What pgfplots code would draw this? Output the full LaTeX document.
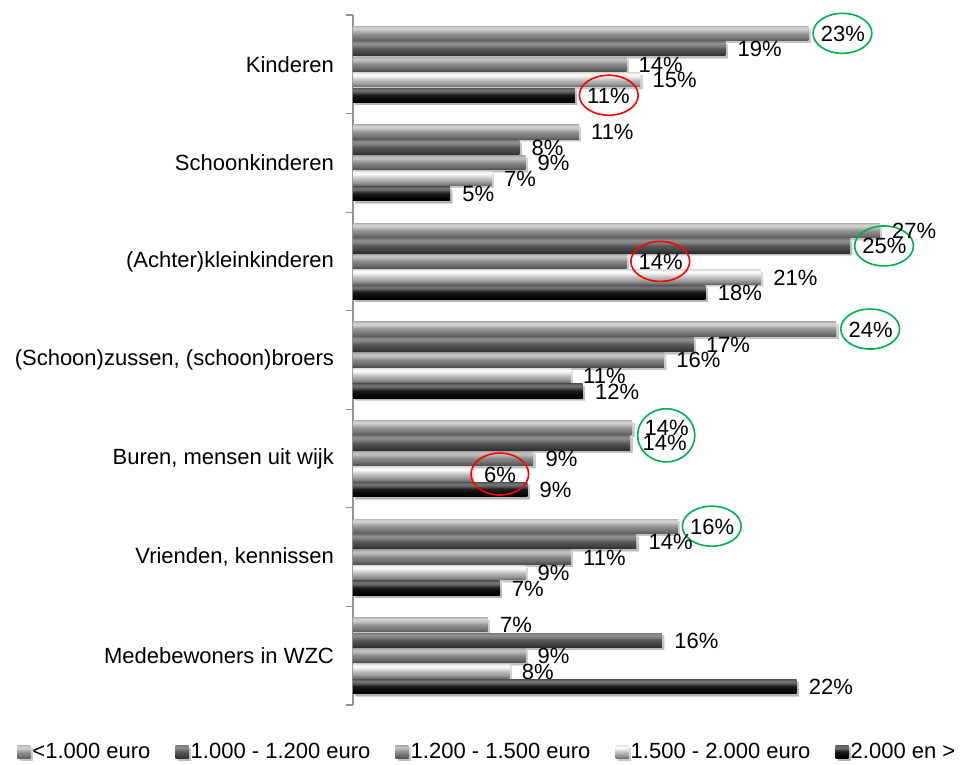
\documentclass[border=0pt]{standalone}
\usepackage{fontspec}
\setmainfont{Liberation Sans}
\usepackage{pgfplots}
\pgfplotsset{compat=1.18}
\newcommand\fs{\fontsize{11}{13}\selectfont}
\definecolor{cgreen}{HTML}{00B050}
\definecolor{cred}{HTML}{FF0000}
\pgfdeclareverticalshading{sA}{100bp}{color(0bp)=(black!64); color(25bp)=(black!64); color(36bp)=(black!53); color(50bp)=(black!42); color(64bp)=(black!20); color(70bp)=(black!17); color(75bp)=(black!28); color(100bp)=(black!28)}
\pgfdeclareverticalshading{sB}{100bp}{color(0bp)=(black!82); color(25bp)=(black!82); color(36bp)=(black!74); color(50bp)=(black!66); color(64bp)=(black!46); color(70bp)=(black!44); color(75bp)=(black!52); color(100bp)=(black!52)}
\pgfdeclareverticalshading{sC}{100bp}{color(0bp)=(black!70); color(25bp)=(black!70); color(36bp)=(black!58); color(50bp)=(black!47); color(64bp)=(black!26); color(70bp)=(black!24); color(75bp)=(black!34); color(100bp)=(black!34)}
\pgfdeclareverticalshading{sD}{100bp}{color(0bp)=(black!58); color(25bp)=(black!58); color(36bp)=(black!40); color(50bp)=(black!24); color(64bp)=(black!3); color(70bp)=(black!2); color(75bp)=(black!12); color(100bp)=(black!12)}
\pgfdeclareverticalshading{sE}{100bp}{color(0bp)=(black); color(25bp)=(black); color(40bp)=(black!96); color(52bp)=(black!88); color(64bp)=(black!58); color(70bp)=(black!55); color(75bp)=(black!65); color(100bp)=(black!65)}
\def\d{0.157}
\pgfplotsset{
  shad/.style={preaction={fill=black, fill opacity=0.16, transform canvas={xshift=1.2pt, yshift=-1.2pt}}},
  sa/.style={xbar, bar shift=-2*\d, draw=none, shad, shading=sA, every node near coord/.append style={yshift=15.3pt}},
  sb/.style={xbar, bar shift=-\d, draw=none, shad, shading=sB, every node near coord/.append style={yshift=7.6pt}},
  sc/.style={xbar, bar shift=0, draw=none, shad, shading=sC, every node near coord/.append style={yshift=-0.2pt}},
  sd/.style={xbar, bar shift=\d, draw=none, shad, shading=sD, every node near coord/.append style={yshift=-8pt}},
  se/.style={xbar, bar shift=2*\d, draw=none, shad, shading=sE, every node near coord/.append style={yshift=-15.8pt}},
}
\begin{document}
\begin{tikzpicture}
\begin{axis}[
  name=ax, scale only axis, width=302pt, height=345pt,
  xmin=0, xmax=30.5, ymin=0.5, ymax=7.5, y dir=reverse,
  axis x line=none, axis y line*=left,
  y axis line style={draw=gray!85, line width=0.6pt},
  ytick={1,...,7},
  yticklabels={Kinderen,Schoonkinderen,(Achter)kleinkinderen,{(Schoon)zussen, (schoon)broers},{Buren, mensen uit wijk},{Vrienden, kennissen},Medebewoners in WZC},
  major tick length=0pt,
  extra y ticks={0.5,1.5,2.5,3.5,4.5,5.5,6.5,7.5},
  extra y tick labels={},
  extra y tick style={major tick length=3.6pt, tick align=outside, tick style={draw=gray!85, line width=0.6pt}},
  yticklabel style={font=\fs, xshift=-6pt},
  bar width=0.145,
  point meta=explicit symbolic,
  nodes near coords={\pgfplotspointmeta\%},
  nodes near coords style={font=\fs, anchor=west, inner sep=0pt, xshift=6pt, text=black},
  clip=false,
  legend style={at={(0.224,-0.068)}, anchor=center, draw=none, fill=none, font=\fs,
    legend columns=5, /tikz/every even column/.append style={column sep=10.5pt},
    /tikz/every odd column/.append style={column sep=-1pt}},
  legend image code/.code={\path[#1,draw=none] (0pt,-3.3pt) rectangle (6.6pt,3.3pt);},
]
% series 1: <1.000 euro
\addplot[sa] coordinates {(23.0,1) [23]};
\addlegendentry{<1.000 euro}
\addplot[sa, forget plot] coordinates {(11.4,2) [11]};
\addplot[sa, forget plot] coordinates {(26.6,3) [27]};
\addplot[sa, forget plot] coordinates {(24.4,4) [24]};
\addplot[sa, forget plot] coordinates {(14.1,5) [14]};
\addplot[sa, forget plot] coordinates {(16.4,6) [16]};
\addplot[sa, forget plot] coordinates {(6.8,7) [7]};
% series 2: 1.000 - 1.200 euro
\addplot[sb] coordinates {(18.8,1) [19]};
\addlegendentry{1.000 - 1.200 euro}
\addplot[sb, forget plot] coordinates {(8.4,2) [8]};
\addplot[sb, forget plot] coordinates {(25.1,3) [25]};
\addplot[sb, forget plot] coordinates {(17.2,4) [17]};
\addplot[sb, forget plot] coordinates {(14.0,5) [14]};
\addplot[sb, forget plot] coordinates {(14.3,6) [14]};
\addplot[sb, forget plot] coordinates {(15.6,7) [16]};
% series 3: 1.200 - 1.500 euro
\addplot[sc] coordinates {(13.8,1) [14]};
\addlegendentry{1.200 - 1.500 euro}
\addplot[sc, forget plot] coordinates {(8.7,2) [9]};
\addplot[sc, forget plot] coordinates {(13.8,3) [14]};
\addplot[sc, forget plot] coordinates {(15.7,4) [16]};
\addplot[sc, forget plot] coordinates {(9.1,5) [9]};
\addplot[sc, forget plot] coordinates {(11.0,6) [11]};
\addplot[sc, forget plot] coordinates {(8.7,7) [9]};
% series 4: 1.500 - 2.000 euro
\addplot[sd] coordinates {(14.5,1) [15]};
\addlegendentry{1.500 - 2.000 euro}
\addplot[sd, forget plot] coordinates {(7.0,2) [7]};
\addplot[sd, forget plot] coordinates {(20.6,3) [21]};
\addplot[sd, forget plot] coordinates {(11.0,4) [11]};
\addplot[sd, forget plot] coordinates {(6.0,5) [6]};
\addplot[sd, forget plot] coordinates {(8.7,6) [9]};
\addplot[sd, forget plot] coordinates {(7.9,7) [8]};
% series 5: 2.000 en >
\addplot[se] coordinates {(11.2,1) [11]};
\addlegendentry{2.000 en >}
\addplot[se, forget plot] coordinates {(4.9,2) [5]};
\addplot[se, forget plot] coordinates {(17.8,3) [18]};
\addplot[se, forget plot] coordinates {(11.6,4) [12]};
\addplot[se, forget plot] coordinates {(8.8,5) [9]};
\addplot[se, forget plot] coordinates {(7.4,6) [7]};
\addplot[se, forget plot] coordinates {(22.4,7) [22]};
% annotation ellipses around labels
\draw[cgreen, line width=0.8pt] ([xshift=17pt]axis cs:23.0,{1-2*\d}) ellipse [x radius=14.7pt, y radius=10pt];
\draw[cred, line width=0.8pt] ([xshift=17pt]axis cs:11.2,{1+2*\d}) ellipse [x radius=14.7pt, y radius=10pt];
\draw[cgreen, line width=0.8pt] ([xshift=17pt]axis cs:25.1,{3-\d}) ellipse [x radius=14.7pt, y radius=10pt];
\draw[cred, line width=0.8pt] ([xshift=17pt]axis cs:13.8,3) ellipse [x radius=14.7pt, y radius=10pt];
\draw[cgreen, line width=0.8pt] ([xshift=17pt]axis cs:24.4,{4-2*\d}) ellipse [x radius=14.7pt, y radius=10pt];
\draw[cgreen, line width=0.8pt] ([xshift=17pt]axis cs:14.1,{5-1.5*\d}) ellipse [x radius=14.3pt, y radius=13.3pt];
\draw[cred, line width=0.8pt] ([xshift=14pt]axis cs:6.0,{5+\d}) ellipse [x radius=14.4pt, y radius=10.5pt];
\draw[cgreen, line width=0.8pt] ([xshift=17pt]axis cs:16.4,{6-2*\d}) ellipse [x radius=14.7pt, y radius=10pt];
\end{axis}
\pgfresetboundingbox
\path[use as bounding box] ([shift={(-176.5pt,-30pt)}]ax.south west) rectangle ([shift={(4pt,7.5pt)}]ax.north east);
\end{tikzpicture}
\end{document}
